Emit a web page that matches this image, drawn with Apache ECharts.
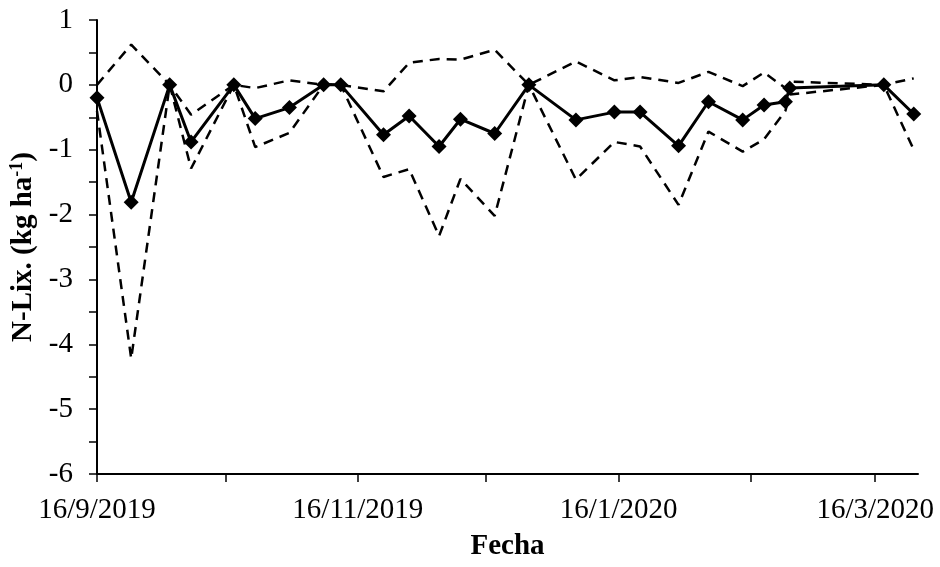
<!DOCTYPE html>
<html>
<head>
<meta charset="utf-8">
<script src="https://cdn.jsdelivr.net/npm/echarts@6/dist/echarts.min.js"></script>
<style>
html,body{margin:0;padding:0;background:#fff;}
#chart{width:940px;height:567px;}
</style>
</head>
<body>
<div id="chart"></div>
<script>
// Sampling dates (reference x positions)
var dates = ['2019-09-16','2019-09-24','2019-10-03','2019-10-08','2019-10-18','2019-10-23','2019-10-31','2019-11-08','2019-11-12','2019-11-22','2019-11-28','2019-12-05','2019-12-10','2019-12-18','2019-12-26','2020-01-06','2020-01-15','2020-01-21','2020-01-30','2020-02-06','2020-02-14','2020-02-19','2020-02-24','2020-02-25','2020-03-18','2020-03-25'];
// Mean N leaching (kg ha-1)
var meanVals = [-0.2,-1.81,0,-0.88,0,-0.52,-0.35,0,0,-0.77,-0.48,-0.95,-0.53,-0.75,0,-0.54,-0.42,-0.42,-0.94,-0.26,-0.54,-0.31,-0.26,-0.05,0,-0.45];
// Upper dashed curve
var upperVals = [0.0,0.62,0,-0.46,0,-0.05,0.07,0,0,-0.1,0.34,0.40,0.39,0.54,0,0.36,0.07,0.12,0.03,0.2,-0.02,0.19,-0.05,0.05,0,0.1];
// Lower dashed curve
var lowerVals = [-0.4,-4.22,0,-1.29,0,-0.96,-0.74,0,0,-1.42,-1.3,-2.33,-1.45,-2.02,0,-1.46,-0.88,-0.95,-1.85,-0.72,-1.03,-0.84,-0.4,-0.15,0,-1.0];
// Axis range and ticks
var xMin = '2019-09-16', xMax = '2020-03-26';
var xTickDates = ['2019-09-16','2019-10-16','2019-11-16','2019-12-16','2020-01-16','2020-02-16','2020-03-16'];
var xLabelDates = ['2019-09-16','2019-11-16','2020-01-16','2020-03-16'];

function ts(s){var p=s.split('-');return Date.UTC(+p[0],+p[1]-1,+p[2]);}
function pairs(vals){return dates.map(function(d,i){return [ts(d),vals[i]];});}

var FONT = 'Liberation Serif';
var chart = echarts.init(document.getElementById('chart'), null, {renderer:'canvas'});
chart.setOption({
  animation:false,
  backgroundColor:'#fff',
  grid:{left:97,right:22,top:20,bottom:93,containLabel:false},
  xAxis:{
    type:'value', min:ts(xMin), max:ts(xMax), scale:true,
    name:'Fecha', nameLocation:'middle', nameGap:58,
    nameTextStyle:{fontFamily:FONT,fontWeight:'bold',fontSize:29,color:'#000'},
    axisLine:{show:true,onZero:false,lineStyle:{color:'#000',width:2}},
    axisTick:{show:true,length:8,lineStyle:{color:'#000',width:1.5},customValues:xTickDates.map(ts)},
    axisLabel:{fontFamily:FONT,fontSize:29,color:'#000',margin:22,hideOverlap:false,showMinLabel:true,showMaxLabel:true,
      customValues:xLabelDates.map(ts),
      formatter:function(v){var d=new Date(v);return d.getUTCDate()+'/'+(d.getUTCMonth()+1)+'/'+d.getUTCFullYear();}},
    splitLine:{show:false}, minorTick:{show:false}
  },
  yAxis:{
    type:'value', min:-6, max:1, interval:1,
    name:'N-Lix. (kg ha{sup|-1})', nameLocation:'middle', nameGap:57,
    nameTextStyle:{fontFamily:FONT,fontWeight:'bold',fontSize:29,color:'#000',
      rich:{sup:{fontFamily:FONT,fontWeight:'bold',fontSize:18,color:'#000',verticalAlign:'top',padding:[0,0,12,0]}}},
    axisLine:{show:true,onZero:false,lineStyle:{color:'#000',width:2}},
    axisTick:{show:true,length:8,lineStyle:{color:'#000',width:1.5}},
    minorTick:{show:true,splitNumber:2,length:8,lineStyle:{color:'#000',width:1.5}},
    axisLabel:{fontFamily:FONT,fontSize:29,color:'#000',margin:24},
    splitLine:{show:false}
  },
  series:[
    {type:'line',data:pairs(upperVals),symbol:'none',z:2,
      lineStyle:{color:'#000',width:2.5,type:[10,7]}},
    {type:'line',data:pairs(lowerVals),symbol:'none',z:2,
      lineStyle:{color:'#000',width:2.5,type:[10,7]}},
    {type:'line',data:pairs(meanVals),symbol:'diamond',symbolSize:15,z:3,
      itemStyle:{color:'#000'},lineStyle:{color:'#000',width:3}}
  ]
});
</script>
</body>
</html>
